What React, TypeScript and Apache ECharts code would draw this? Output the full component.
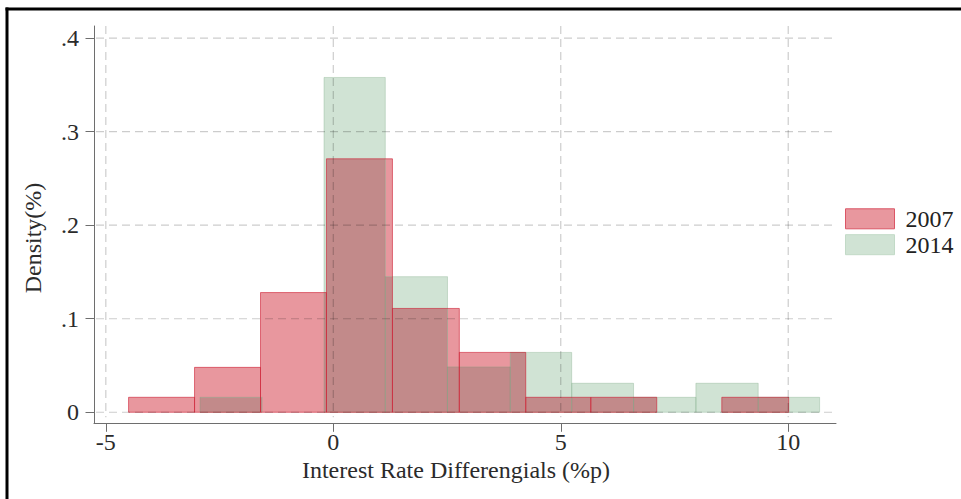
import React, { useEffect, useRef } from "react";
import * as echarts from "echarts";

// ---- data ----
const edges2007 = [-4.5, -3.05, -1.6, -0.15, 1.3, 2.77, 4.23, 5.66, 7.11, 8.54, 10.01];
const density2007 = [0.016, 0.048, 0.128, 0.271, 0.111, 0.064, 0.016, 0.016, 0, 0.016];
const edges2014 = [-2.93, -1.565, -0.204, 1.143, 2.51, 3.89, 5.24, 6.6, 7.97, 9.34, 10.69];
const density2014 = [0.016, 0, 0.358, 0.145, 0.0485, 0.064, 0.031, 0.016, 0.031, 0.016];
const xTicks = [-5, 0, 5, 10];
const yTicks = [0, 0.1, 0.2, 0.3, 0.4];
const seriesNames = ["2007", "2014"];
const xTitle = "Interest Rate Differengials (%p)";
const yTitle = "Density(%)";

const X_MIN = -5.26;
const X_MAX = 11.05;
const Y_MIN = -0.0118;
const Y_MAX = 0.413;

const FONT = "'Liberation Serif', 'Times New Roman', serif";
const RED_FILL = "#E8979E";
const RED_LINE = "rgba(205,30,50,0.6)";
const GREEN_FILL = "#D0E3D4";
const GREEN_LINE = "rgba(110,160,120,0.3)";
const OVERLAP_FILL = "#C28A8A";
const AXIS_COLOR = "#6e6e6e";
const GRID_COLOR = "rgba(0,0,0,0.2)";

function toBars(edges: number[], dens: number[]) {
  return dens.map((d, i) => [edges[i], edges[i + 1], d]).filter((b) => b[2] > 0);
}

function overlaps(a: number[][], b: number[][]) {
  const out: number[][] = [];
  a.forEach((p) => {
    b.forEach((q) => {
      const x0 = Math.max(p[0], q[0]);
      const x1 = Math.min(p[1], q[1]);
      const h = Math.min(p[2], q[2]);
      if (x1 > x0 && h > 0) out.push([x0, x1, h]);
    });
  });
  return out;
}

function rectItem(fill: string, stroke: string, lw: number) {
  return (params: any, api: any) => {
    const p0 = api.coord([api.value(0), 0]);
    const p1 = api.coord([api.value(1), api.value(2)]);
    return {
      type: "rect",
      shape: { x: p0[0], y: p1[1], width: p1[0] - p0[0], height: p0[1] - p1[1] },
      style: { fill, stroke, lineWidth: lw },
    };
  };
}

export default function App() {
  const ref = useRef<HTMLDivElement>(null);
  useEffect(() => {
    if (!ref.current) return;
    const chart = echarts.init(ref.current, undefined, { renderer: "svg" });
    const bars07 = toBars(edges2007, density2007);
    const bars14 = toBars(edges2014, density2014);
    const ov = overlaps(bars07, bars14);

    const common = {
      type: "custom",
      coordinateSystem: "cartesian2d",
      encode: { x: [0, 1], y: 2 },
      silent: true,
    };

    chart.setOption({
      animation: false,
      backgroundColor: "#ffffff",
      grid: { left: 94, right: 125, top: 26, bottom: 75.7, containLabel: false, outerBoundsMode: "none" },
      legend: {
        orient: "vertical",
        left: 845,
        top: 206.8,
        padding: 0,
        itemWidth: 49,
        itemHeight: 20,
        itemGap: 1.9,
        icon: "rect",
        selectedMode: false,
        textStyle: { fontSize: 24, fontFamily: FONT, color: "#222", lineHeight: 20, padding: [0, 0, 0, 6] },
        data: [
          { name: seriesNames[0], itemStyle: { color: RED_FILL, borderColor: "#DB5666", borderWidth: 1 } },
          { name: seriesNames[1], itemStyle: { color: GREEN_FILL, borderColor: "#C2DAC7", borderWidth: 1 } },
        ],
      },
      xAxis: {
        type: "value",
        min: X_MIN,
        max: X_MAX,
        splitLine: { show: false },
        axisLine: { show: true, onZero: false, lineStyle: { color: AXIS_COLOR, width: 1 } },
        axisTick: { show: true, customValues: xTicks, length: 8.5, lineStyle: { color: AXIS_COLOR } },
        axisLabel: {
          customValues: xTicks,
          margin: 19,
          verticalAlign: "middle",
          fontSize: 24,
          fontFamily: FONT,
          color: "#2b2b2b",
          formatter: (v: number) => String(v),
        },
      },
      yAxis: {
        type: "value",
        min: Y_MIN,
        max: Y_MAX,
        splitLine: { show: false },
        axisLine: { show: true, onZero: false, lineStyle: { color: AXIS_COLOR, width: 1 } },
        axisTick: { show: true, customValues: yTicks, length: 8.5, lineStyle: { color: AXIS_COLOR } },
        axisLabel: {
          customValues: yTicks,
          margin: 15,
          fontSize: 24,
          fontFamily: FONT,
          color: "#2b2b2b",
          formatter: (v: number) => (Math.abs(v) < 1e-9 ? "0" : v.toFixed(1).replace(/^0/, "")),
        },
      },
      series: [
        {
          ...common,
          name: seriesNames[0],
          z: 2,
          itemStyle: { color: RED_FILL, borderColor: "#DB5666", borderWidth: 1 },
          renderItem: rectItem(RED_FILL, "none", 0),
          data: bars07,
        },
        {
          ...common,
          name: seriesNames[1],
          z: 3,
          itemStyle: { color: GREEN_FILL, borderColor: "#C2DAC7", borderWidth: 1 },
          renderItem: rectItem(GREEN_FILL, "none", 0),
          data: bars14,
        },
        {
          ...common,
          name: "overlap",
          z: 4,
          renderItem: rectItem(OVERLAP_FILL, "none", 0),
          data: ov,
        },
        {
          ...common,
          name: "outline2014",
          z: 5,
          renderItem: rectItem("none", GREEN_LINE, 1),
          data: bars14,
        },
        {
          ...common,
          name: "outline2007",
          z: 6,
          renderItem: rectItem("none", RED_LINE, 1),
          data: bars07,
        },
        {
          type: "custom",
          name: "vgrid",
          coordinateSystem: "cartesian2d",
          encode: { x: 0, y: 1 },
          silent: true,
          z: 7,
          data: xTicks.map((v) => [v, 0]),
          renderItem: (params: any, api: any) => {
            const a = api.coord([api.value(0), Y_MAX]);
            const b = api.coord([api.value(0), 0]);
            return {
              type: "line",
              shape: { x1: a[0], y1: a[1], x2: b[0], y2: b[1] + 5 },
              style: { stroke: GRID_COLOR, lineWidth: 1.2, lineDash: [8, 5] },
            };
          },
        },
        {
          type: "custom",
          name: "hgrid",
          coordinateSystem: "cartesian2d",
          encode: { x: 0, y: 1 },
          silent: true,
          z: 7,
          data: yTicks.map((v) => [0, v]),
          renderItem: (params: any, api: any) => {
            const a = api.coord([X_MIN, api.value(1)]);
            const b = api.coord([X_MAX, api.value(1)]);
            return {
              type: "line",
              shape: { x1: a[0] + 2, y1: a[1], x2: b[0] - 2, y2: b[1] },
              style: { stroke: GRID_COLOR, lineWidth: 1.2, lineDash: [8, 5] },
            };
          },
        },
      ],
      graphic: [
        { type: "line", shape: { x1: 5.5, y1: 9, x2: 961, y2: 9 }, style: { stroke: "#000", lineWidth: 3 } },
        { type: "line", shape: { x1: 7, y1: 7.5, x2: 7, y2: 499 }, style: { stroke: "#000", lineWidth: 3 } },
        {
          type: "text",
          x: 456,
          y: 469.5,
          style: { text: xTitle, fontSize: 24, fontFamily: FONT, fill: "#2b2b2b", align: "center", verticalAlign: "middle" },
        },
        {
          type: "text",
          x: 32.5,
          y: 238,
          rotation: Math.PI / 2,
          style: { text: yTitle, fontSize: 24, fontFamily: FONT, fill: "#2b2b2b", align: "center", verticalAlign: "middle" },
        },
      ],
    });
    return () => chart.dispose();
  }, []);
  return (
    <div
      ref={ref}
      style={{ position: "fixed", left: 0, top: 0, width: 961, height: 499, background: "#fff" }}
    />
  );
}
